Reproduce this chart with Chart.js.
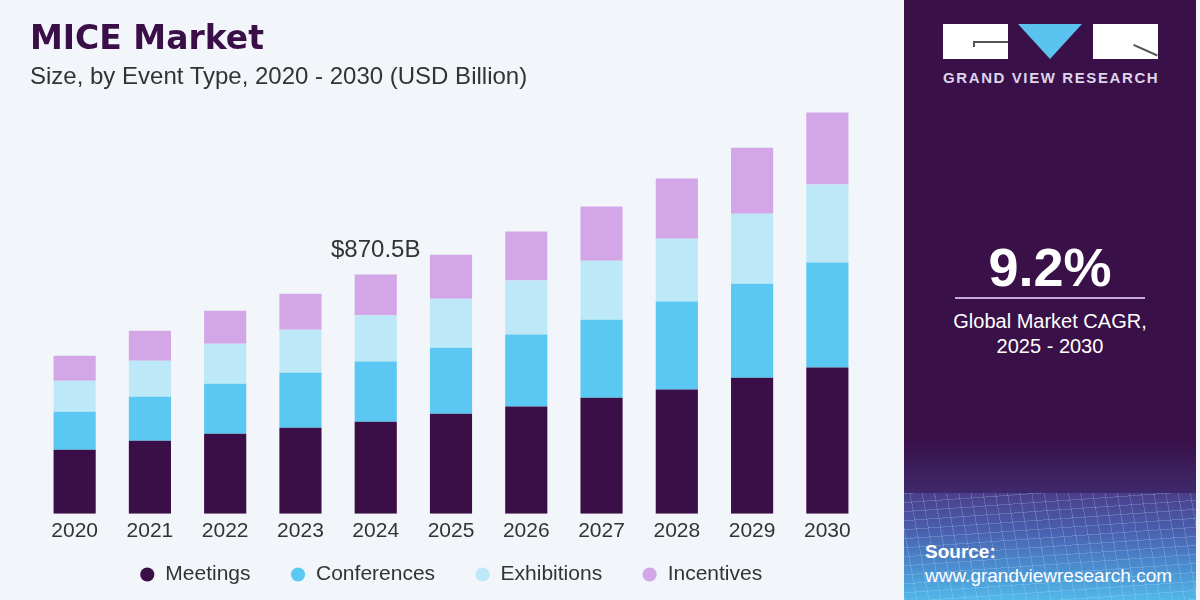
<!DOCTYPE html>
<html>
<head>
<meta charset="utf-8">
<script src="https://cdn.jsdelivr.net/npm/chart.js@4/dist/chart.umd.min.js"></script>
<style>
  html, body { margin: 0; padding: 0; }
  body { width: 1200px; height: 600px; position: relative; overflow: hidden; background: #f2f6fa; font-family: "Liberation Sans", Arial, sans-serif; }
  #chartWrap { position: absolute; left: 0; top: 0; width: 904px; height: 600px; }
  .title { position: absolute; left: 30px; top: 18px; font-family: "DejaVu Sans", sans-serif; font-size: 33px; font-weight: bold; color: #3a0f47; }
  .subtitle { position: absolute; left: 30px; top: 62px; font-size: 24px; color: #333; }
  .panel { position: absolute; left: 904px; top: 0; width: 292px; height: 600px; background: #3a1049; overflow: hidden; }
  .strip { position: absolute; left: 1196px; top: 0; width: 4px; height: 600px; background: #f2f6fa; }
  .box { position: absolute; top: 24px; width: 65px; height: 35px; background: #fff; }
  .tri { position: absolute; left: 114px; top: 24px; width: 0; height: 0; border-left: 32px solid transparent; border-right: 32px solid transparent; border-top: 35px solid #5bc3ef; }
  .ln { position: absolute; background: #555; }
  .brand { position: absolute; left: 39px; top: 69px; width: 215px; text-align: center; font-size: 15px; font-weight: bold; color: #ddd5ea; letter-spacing: 1.6px; white-space: nowrap; }
  .cagr { position: absolute; left: 0; width: 292px; text-align: center; color: #fff; }
  .rule { position: absolute; left: 51px; top: 297px; width: 190px; height: 2px; background: #c7a8df; }
  .grid { position: absolute; left: 0; top: 493px; width: 292px; height: 107px;
    background:
      repeating-linear-gradient(80deg, rgba(190,225,255,0.22) 0 1px, transparent 1px 12px),
      repeating-linear-gradient(-4deg, rgba(190,225,255,0.22) 0 1px, transparent 1px 9px),
      linear-gradient(to bottom, #4b3e8a 0%, #4a5fae 35%, #4a8ed0 70%, #52b8e8 100%); }
  .fade { position: absolute; left: 0; top: 440px; width: 292px; height: 54px; background: linear-gradient(to bottom, #3a1049, #3e2a6c); }
  .src { position: absolute; left: 21px; color: #fff; font-size: 19px; }
</style>
</head>
<body>
<div id="chartWrap"><canvas id="miceChart"></canvas></div>
<div class="title">MICE Market</div>
<div class="subtitle">Size, by Event Type, 2020 - 2030 (USD Billion)</div>

<div class="panel">
  <div class="box" style="left:39px"></div>
  <div class="ln" style="left:69px; top:41px; width:35px; height:2px;"></div>
  <div class="ln" style="left:69px; top:41px; width:2px; height:6px;"></div>
  <div class="tri"></div>
  <div class="box" style="left:189px"></div>
  <div class="ln" style="left:230px; top:44px; width:26px; height:2px; transform: rotate(24deg); transform-origin: 0 0;"></div>
  <div class="brand">GRAND VIEW RESEARCH</div>
  <div class="cagr" style="top:236px; font-size:54px; font-weight:bold;">9.2%</div>
  <div class="rule"></div>
  <div class="cagr" style="top:310px; font-size:20px;">Global Market CAGR,</div>
  <div class="cagr" style="top:335px; font-size:20px;">2025 - 2030</div>
  <div class="fade"></div>
  <div class="grid"></div>
  <div class="src" style="top:541px; font-weight:bold;">Source:</div>
  <div class="src" style="top:565px;">www.grandviewresearch.com</div>
</div>
<div class="strip"></div>

<script>
const years = ['2020', '2021', '2022', '2023', '2024', '2025', '2026', '2027', '2028', '2029', '2030'];
const meetings = [233, 266, 291, 313, 335, 364, 390, 422, 452, 495, 532];
const conferences = [138, 160, 182, 200, 219, 240, 262, 284, 320, 342, 382];
const exhibitions = [113, 131, 146, 157, 168, 178, 197, 215, 229, 255, 284];
const incentives = [91, 109, 120, 131, 148.5, 160, 178, 197, 219, 240, 262];
const labelYear = '2024';

const fontFamily = '"Liberation Sans", Arial, sans-serif';

// total value written above one bar
const totalLabel = {
  id: 'totalLabel',
  afterDatasetsDraw(chart) {
    const i = years.indexOf(labelYear);
    const meta = chart.getDatasetMeta(chart.data.datasets.length - 1);
    const bar = meta.data[i];
    if (!bar) return;
    const total = chart.data.datasets.reduce((s, ds) => s + ds.data[i], 0);
    const ctx = chart.ctx;
    ctx.save();
    ctx.font = '24px ' + fontFamily;
    ctx.fillStyle = '#333';
    ctx.textAlign = 'center';
    ctx.textBaseline = 'bottom';
    ctx.fillText('$' + total.toFixed(1) + 'B', bar.x, bar.y - 12);
    ctx.restore();
  },
};

// legend padding is wide for the gaps: cap its box height and pull the row up
const legendFit = {
  id: 'legendFit',
  afterInit(chart, args, opts) {
    const legend = chart.legend;
    if (!legend) return;
    const fit = legend.fit.bind(legend);
    legend.fit = function () {
      fit();
      this.height = opts.height;
    };
  },
  afterLayout(chart, args, opts) {
    if (!chart.legend) return;
    chart.legend.top -= opts.lift;
  },
};

const ctx = document.getElementById('miceChart');
new Chart(ctx, {
  type: 'bar',
  data: {
    labels: years,
    datasets: [
      { label: 'Meetings', data: meetings, backgroundColor: '#3a0f47' },
      { label: 'Conferences', data: conferences, backgroundColor: '#5ac8f2' },
      { label: 'Exhibitions', data: exhibitions, backgroundColor: '#bde8f8' },
      { label: 'Incentives', data: incentives, backgroundColor: '#d3a6e8' },
    ],
  },
  options: {
    responsive: true,
    maintainAspectRatio: false,
    animation: false,
    layout: { padding: { left: 37, right: 39, top: 74, bottom: 0 } },
    datasets: { bar: { barPercentage: 0.56, categoryPercentage: 1 } },
    scales: {
      x: {
        stacked: true,
        grid: { display: false, drawTicks: false },
        border: { display: false },
        ticks: { color: '#333', padding: 5, font: { size: 21, family: fontFamily } },
      },
      y: { stacked: true, display: false, min: 0, max: 1600 },
    },
    plugins: {
      legend: {
        position: 'bottom',
        labels: {
          usePointStyle: true,
          pointStyle: 'circle',
          boxWidth: 15,
          boxHeight: 10,
          padding: 40,
          color: '#333',
          font: { size: 21, family: fontFamily },
        },
      },
      legendFit: { height: 51, lift: 25 },
      tooltip: { enabled: false },
    },
  },
  plugins: [totalLabel, legendFit],
});
</script>
</body>
</html>
